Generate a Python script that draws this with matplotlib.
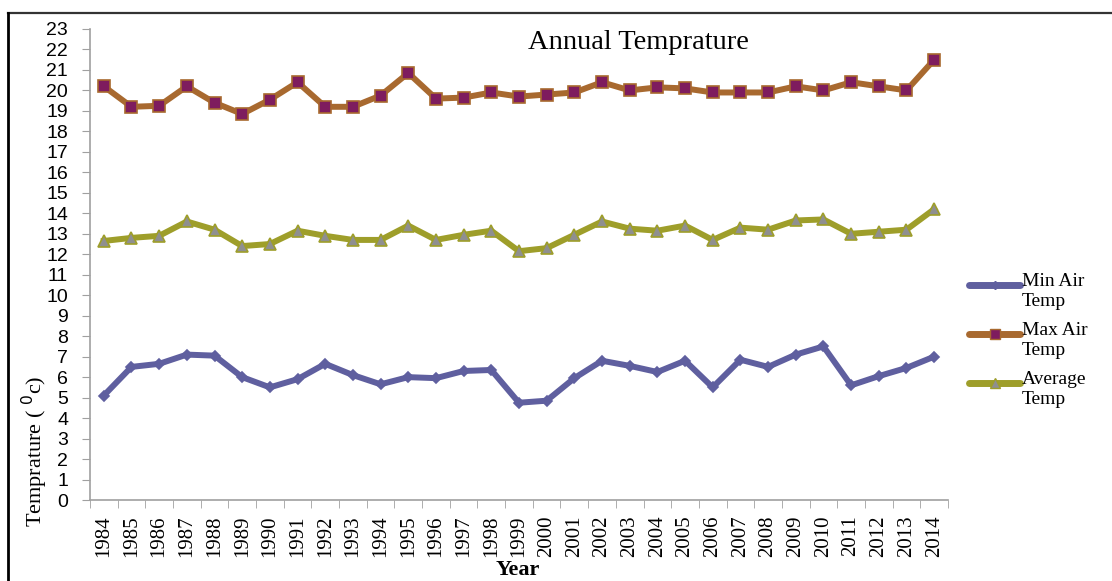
import numpy as np
import matplotlib.pyplot as plt
from matplotlib.lines import Line2D

years = list(range(1984, 2015))
min_temp = [5.1, 6.5, 6.65, 7.1, 7.05, 6.0, 5.5, 5.9, 6.65, 6.1, 5.65, 6.0, 5.95, 6.3, 6.35,
            4.75, 4.85, 5.95, 6.8, 6.55, 6.25, 6.8, 5.5, 6.85, 6.5, 7.1, 7.5, 5.6, 6.05, 6.45, 7.0]
max_temp = [20.2, 19.2, 19.25, 20.2, 19.4, 18.85, 19.55, 20.4, 19.2, 19.2, 19.75, 20.85, 19.6, 19.65, 19.9,
            19.7, 19.8, 19.9, 20.4, 20.0, 20.15, 20.1, 19.9, 19.9, 19.9, 20.2, 20.0, 20.4, 20.2, 20.0, 21.5]
avg_temp = [12.65, 12.8, 12.9, 13.6, 13.2, 12.4, 12.5, 13.15, 12.9, 12.7, 12.7, 13.4, 12.7, 12.95, 13.15,
            12.15, 12.3, 12.95, 13.6, 13.25, 13.15, 13.4, 12.7, 13.3, 13.2, 13.65, 13.7, 13.0, 13.1, 13.2, 14.2]
labels = ["Min Air\nTemp", "Max Air\nTemp", "Average\nTemp"]

serif = "Liberation Serif"
fig = plt.figure(figsize=(11.12, 5.81), dpi=100)
ax = fig.add_axes([0.0809, 0.1394, 0.7716, 0.8107])
x = np.arange(len(years))

# (line colour, marker, marker size, marker face) per series
styles = [
    ("#5f5f9f", "D", 5, "#5f5f9f"),
    ("#a8692f", "s", 8.5, "#7e1c5e"),
    ("#9e9e2a", "^", 9, "#8f8f8f"),
]
series = [min_temp, max_temp, avg_temp]
for vals, (c, m, ms, mf) in zip(series, styles):
    ax.plot(x, vals, color=c, lw=4.3, marker=m, ms=ms, mfc=mf, mec=c, mew=1.2,
            solid_joinstyle="miter")

ax.set_xlim(-0.5, len(years) - 0.5)
ax.set_ylim(0, 23)
ax.set_yticks(range(0, 24))
ax.set_yticklabels([str(v) for v in range(0, 24)], fontsize=14, family="Liberation Sans")
ax.set_xticks(x)
ax.set_xticklabels([str(y) for y in years], rotation=90, fontsize=15, family=serif)
ax.set_xticks(np.arange(-0.5, len(years)), minor=True)
ax.tick_params(axis="x", which="major", length=0, pad=11)
ax.tick_params(axis="x", which="minor", length=5.5, color="#a0a0a0")
ax.tick_params(axis="y", length=5.8, color="#a0a0a0", pad=10)
for s in ["top", "right"]:
    ax.spines[s].set_visible(False)
for s in ["left", "bottom"]:
    ax.spines[s].set_color("#a0a0a0")
    ax.spines[s].set_linewidth(1.2)

fig.text(518 / 1112, 1 - 570 / 581, "Year", ha="center", va="center", fontsize=16,
         family=serif, fontweight="bold")
fig.text(35 / 1112, 1 - 451 / 581, "Temprature ( $^{0}$c)", rotation=90, ha="center",
         va="center", fontsize=16, family=serif)
ax.text(0.639, 0.972, "Annual Temprature", transform=ax.transAxes, ha="center", va="center",
        fontsize=20.5, family=serif)

# legend: handle sits at the first line of each two-line label
for i, (lab, (c, m, ms, mf)) in enumerate(zip(labels, styles)):
    yy = 1 - (285 + 49 * i) / 581
    fig.add_artist(Line2D([969 / 1112, 1020 / 1112], [yy, yy], color=c, lw=5,
                          solid_capstyle="round", transform=fig.transFigure))
    fig.add_artist(Line2D([994.5 / 1112], [yy], color=c, marker=m, ms=ms * 0.8, mfc=mf,
                          mec=c, transform=fig.transFigure))
    fig.text(1022 / 1112, yy + 12 / 581, lab, ha="left", va="top", fontsize=14,
             family=serif, linespacing=1.2)

# outer frame
fig.add_artist(Line2D([8 / 1112, 1.0], [1 - 13 / 581] * 2, color="#333333", lw=1.6,
                      transform=fig.transFigure))
fig.add_artist(Line2D([8 / 1112] * 2, [0.0, 1 - 13 / 581], color="black", lw=2,
                      transform=fig.transFigure))

fig.savefig("out.png", dpi=100)
